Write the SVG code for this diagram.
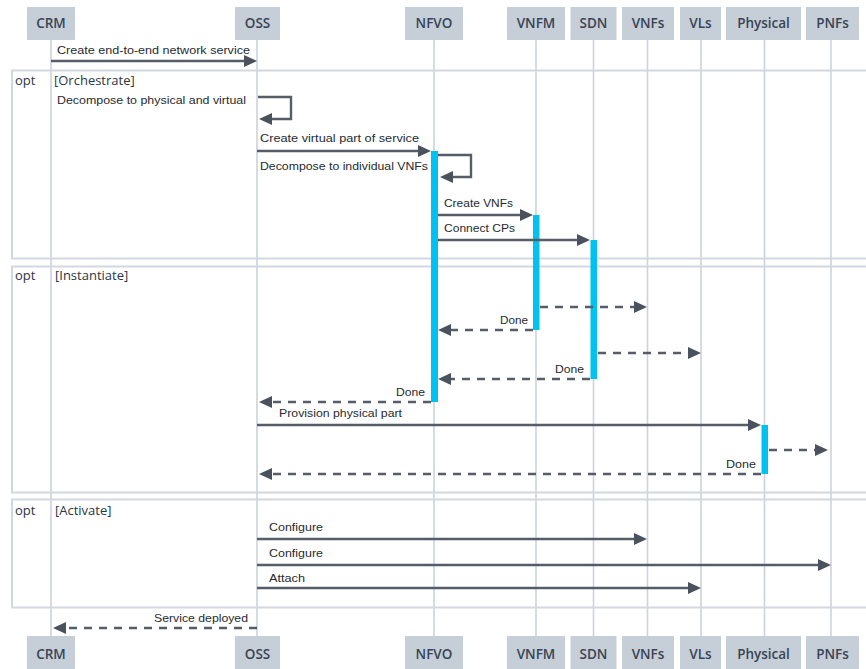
<svg xmlns="http://www.w3.org/2000/svg" width="866" height="669" viewBox="0 0 866 669">
  <style>
    .bg { fill: #ffffff; }
    .actor rect { fill: #c6ced8; }
    .actor text { font-family: "Open Sans", "Liberation Sans", sans-serif; font-size: 13.5px; font-weight: 600; fill: #384454; text-anchor: middle; }
    .life { stroke: #ccd3dc; stroke-width: 1.6; }
    .frame rect { fill: none; stroke: #d2d8df; stroke-width: 2; }
    .frame text { font-family: "Open Sans", "Liberation Sans", sans-serif; font-size: 13px; fill: #2c3543; }
    .msg { fill: none; stroke: #555d69; stroke-width: 2.4; marker-end: url(#arr); }
    .dash { stroke-dasharray: 8 7; }
    .lbl { font-family: "Liberation Sans", Arial, sans-serif; font-size: 10.5px; fill: #262a30; }
    .end { text-anchor: end; }
    .act { fill: #00c2f0; }
  </style>
  <defs>
    <marker id="arr" viewBox="0 0 13 12" refX="9" refY="6" markerWidth="13" markerHeight="12" markerUnits="userSpaceOnUse" orient="auto">
      <path d="M0,0 L13,6 L0,12 z" fill="#4a525e"/>
    </marker>
  </defs>

  <rect class="bg" x="0" y="0" width="866" height="669"/>

  <!-- lifelines -->
  <g id="lifelines">
    <line class="life" x1="51" y1="40" x2="51" y2="636"/>
    <line class="life" x1="257" y1="40" x2="257" y2="636"/>
    <line class="life" x1="434" y1="40" x2="434" y2="636"/>
    <line class="life" x1="536" y1="40" x2="536" y2="636"/>
    <line class="life" x1="593.5" y1="40" x2="593.5" y2="636"/>
    <line class="life" x1="647.5" y1="40" x2="647.5" y2="636"/>
    <line class="life" x1="701" y1="40" x2="701" y2="636"/>
    <line class="life" x1="764.5" y1="40" x2="764.5" y2="636"/>
    <line class="life" x1="831" y1="40" x2="831" y2="636"/>
  </g>

  <!-- combined fragments -->
  <g id="opt-orchestrate" class="frame">
    <rect x="12" y="70.5" width="860" height="188"/>
    <text x="15" y="85">opt</text>
    <text x="54" y="85">[Orchestrate]</text>
  </g>
  <g id="opt-instantiate" class="frame">
    <rect x="12" y="266.5" width="860" height="226"/>
    <text x="15" y="280">opt</text>
    <text x="55" y="280">[Instantiate]</text>
  </g>
  <g id="opt-activate" class="frame">
    <rect x="12" y="499.5" width="860" height="108"/>
    <text x="15" y="515">opt</text>
    <text x="55" y="515">[Activate]</text>
  </g>

  <!-- activation bars -->
  <g id="activations">
    <rect class="act" x="431" y="151" width="7" height="251"/>
    <rect class="act" x="533" y="215" width="6.5" height="115"/>
    <rect class="act" x="590.5" y="240" width="6.5" height="139"/>
    <rect class="act" x="761.5" y="425" width="6.5" height="49"/>
  </g>

  <!-- messages -->
  <g id="connectors">
    <path class="msg" d="M51,61 H253"/>
    <text class="lbl" x="57" y="54" textLength="193" lengthAdjust="spacingAndGlyphs">Create end-to-end network service</text>

    <path class="msg" d="M258,97 H291 V119 H263"/>
    <text class="lbl" x="57" y="104" textLength="189" lengthAdjust="spacingAndGlyphs">Decompose to physical and virtual</text>

    <path class="msg" d="M257,151 H427"/>
    <text class="lbl" x="260" y="142" textLength="159" lengthAdjust="spacingAndGlyphs">Create virtual part of service</text>

    <path class="msg" d="M438,155 H471 V177 H444"/>
    <text class="lbl" x="260" y="170" textLength="168" lengthAdjust="spacingAndGlyphs">Decompose to individual VNFs</text>

    <path class="msg" d="M438,215 H529"/>
    <text class="lbl" x="444" y="207" textLength="69" lengthAdjust="spacingAndGlyphs">Create VNFs</text>

    <path class="msg" d="M438,240 H586"/>
    <text class="lbl" x="444" y="232" textLength="71" lengthAdjust="spacingAndGlyphs">Connect CPs</text>

    <path class="msg dash" d="M540,307 H643"/>

    <path class="msg dash" d="M533,330 H442"/>
    <text class="lbl end" x="528" y="324" textLength="28" lengthAdjust="spacingAndGlyphs">Done</text>

    <path class="msg dash" d="M598,353 H697"/>

    <path class="msg dash" d="M590,379 H442"/>
    <text class="lbl end" x="584" y="373" textLength="29" lengthAdjust="spacingAndGlyphs">Done</text>

    <path class="msg dash" d="M431,402 H263"/>
    <text class="lbl end" x="425" y="396" textLength="29" lengthAdjust="spacingAndGlyphs">Done</text>

    <path class="msg" d="M257,425 H757"/>
    <text class="lbl" x="279" y="417" textLength="123" lengthAdjust="spacingAndGlyphs">Provision physical part</text>

    <path class="msg dash" d="M769,450 H824"/>

    <path class="msg dash" d="M761,474 H263"/>
    <text class="lbl end" x="756" y="468" textLength="30" lengthAdjust="spacingAndGlyphs">Done</text>

    <path class="msg" d="M257,539 H643"/>
    <text class="lbl" x="269" y="531" textLength="54" lengthAdjust="spacingAndGlyphs">Configure</text>

    <path class="msg" d="M257,565 H827"/>
    <text class="lbl" x="269" y="557" textLength="54" lengthAdjust="spacingAndGlyphs">Configure</text>

    <path class="msg" d="M257,588 H697"/>
    <text class="lbl" x="269" y="582" textLength="36" lengthAdjust="spacingAndGlyphs">Attach</text>

    <path class="msg dash" d="M257,628 H57"/>
    <text class="lbl end" x="248" y="622" textLength="94" lengthAdjust="spacingAndGlyphs">Service deployed</text>
  </g>

  <!-- participants (top) -->
  <g id="crm-top" class="actor"><rect x="27" y="7" width="48" height="33"/><text x="51" y="28">CRM</text></g>
  <g id="oss-top" class="actor"><rect x="235" y="7" width="45" height="33"/><text x="257.5" y="28">OSS</text></g>
  <g id="nfvo-top" class="actor"><rect x="405" y="7" width="58" height="33"/><text x="434" y="28">NFVO</text></g>
  <g id="vnfm-top" class="actor"><rect x="507" y="7" width="58" height="33"/><text x="536" y="28">VNFM</text></g>
  <g id="sdn-top" class="actor"><rect x="570.5" y="7" width="46" height="33"/><text x="593.5" y="28">SDN</text></g>
  <g id="vnfs-top" class="actor"><rect x="622" y="7" width="52" height="33"/><text x="648" y="28">VNFs</text></g>
  <g id="vls-top" class="actor"><rect x="680" y="7" width="41" height="33"/><text x="700.5" y="28">VLs</text></g>
  <g id="physical-top" class="actor"><rect x="726" y="7" width="75" height="33"/><text x="763.5" y="28">Physical</text></g>
  <g id="pnfs-top" class="actor"><rect x="806" y="7" width="53" height="33"/><text x="832.5" y="28">PNFs</text></g>

  <!-- participants (bottom) -->
  <g id="crm-bottom" class="actor"><rect x="27" y="636" width="48" height="36"/><text x="51" y="659">CRM</text></g>
  <g id="oss-bottom" class="actor"><rect x="235" y="636" width="45" height="36"/><text x="257.5" y="659">OSS</text></g>
  <g id="nfvo-bottom" class="actor"><rect x="405" y="636" width="58" height="36"/><text x="434" y="659">NFVO</text></g>
  <g id="vnfm-bottom" class="actor"><rect x="507" y="636" width="58" height="36"/><text x="536" y="659">VNFM</text></g>
  <g id="sdn-bottom" class="actor"><rect x="570.5" y="636" width="46" height="36"/><text x="593.5" y="659">SDN</text></g>
  <g id="vnfs-bottom" class="actor"><rect x="622" y="636" width="52" height="36"/><text x="648" y="659">VNFs</text></g>
  <g id="vls-bottom" class="actor"><rect x="680" y="636" width="41" height="36"/><text x="700.5" y="659">VLs</text></g>
  <g id="physical-bottom" class="actor"><rect x="726" y="636" width="75" height="36"/><text x="763.5" y="659">Physical</text></g>
  <g id="pnfs-bottom" class="actor"><rect x="806" y="636" width="53" height="36"/><text x="832.5" y="659">PNFs</text></g>
</svg>
